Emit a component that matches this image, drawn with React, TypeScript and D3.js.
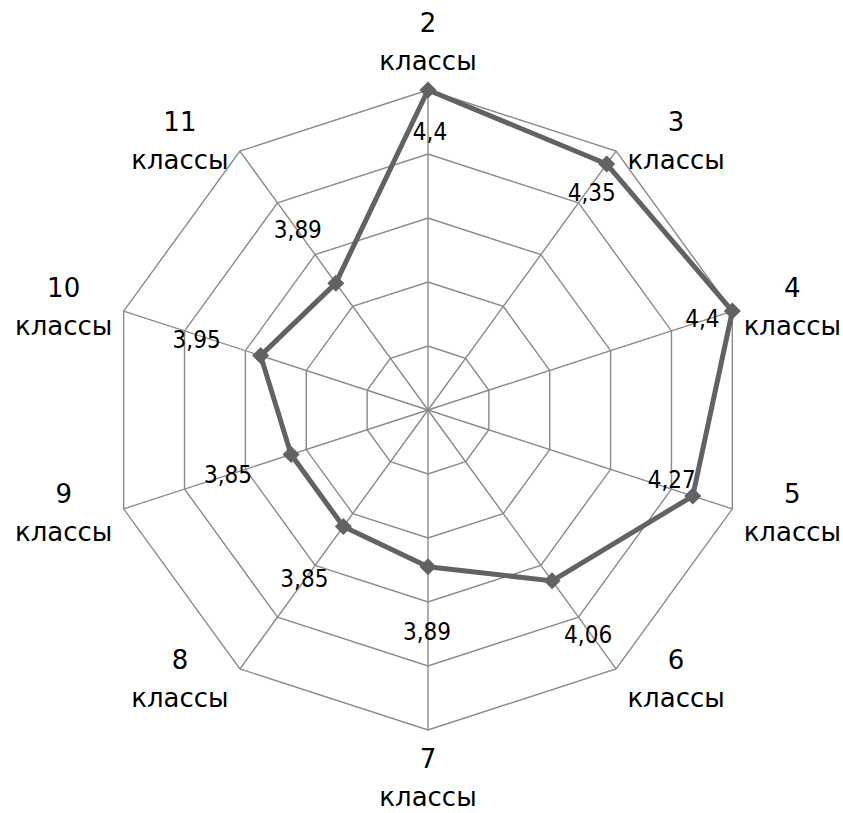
import React from "react";
import * as d3 from "d3";

// chart data
const categories = ["2", "3", "4", "5", "6", "7", "8", "9", "10", "11"];
const values = [4.4, 4.35, 4.4, 4.27, 4.06, 3.89, 3.85, 3.85, 3.95, 3.89];
const ringTicks = [3.6, 3.8, 4.0, 4.2, 4.4];
const unitLabel = "классы";

// data label nudges (px), as placed in the source chart
const labelNudge: [number, number][] = [
  [2, 42], [-15, 29], [-30, 8], [-21, -16], [36, 54],
  [-1, 65], [-39, 53], [-63, 21], [-64, -16], [-38, -53],
];

const W = 843;
const H = 813;
const cx = 428;
const cy = 410;
const R = 320;
const gridColor = "#8a8a8a";
const lineColor = "#626262";
const font = "'DejaVu Sans', sans-serif";

export default function App() {
  const r = d3.scaleLinear().domain([3.4, 4.4]).range([0, R]);
  const angle = d3
    .scaleLinear()
    .domain([0, categories.length])
    .range([0, 2 * Math.PI]);

  const pt = (i: number, v: number): [number, number] => {
    const a = angle(i);
    return [cx + r(v) * Math.sin(a), cy - r(v) * Math.cos(a)];
  };

  const ringPath = (v: number) =>
    d3.line()(categories.map((_, i) => pt(i, v))) + "Z";

  const seriesPath =
    d3.line()(values.map((v, i) => pt(i, v))) + "Z";

  return (
    <svg
      width={W}
      height={H}
      style={{ position: "absolute", left: 0, top: 0, background: "#fff" }}
    >
      {/* grid rings */}
      {ringTicks.map((t) => (
        <path key={t} d={ringPath(t)} fill="none" stroke={gridColor} strokeWidth={1.4} />
      ))}
      {/* spokes */}
      {categories.map((c, i) => {
        const [x, y] = pt(i, 4.4);
        return <line key={c} x1={cx} y1={cy} x2={x} y2={y} stroke={gridColor} strokeWidth={1.4} />;
      })}

      {/* series */}
      <path d={seriesPath} fill="none" stroke={lineColor} strokeWidth={5} strokeLinejoin="round" />
      {values.map((v, i) => {
        const [x, y] = pt(i, v);
        const s = 8.5;
        return (
          <path
            key={i}
            d={`M${x},${y - s}L${x + s},${y}L${x},${y + s}L${x - s},${y}Z`}
            fill={lineColor}
          />
        );
      })}

      {/* data labels */}
      {values.map((v, i) => {
        const [x, y] = pt(i, v);
        return (
          <text
            key={i}
            x={x + labelNudge[i][0]}
            y={y + labelNudge[i][1]}
            textAnchor="middle"
            dominantBaseline="central"
            fontFamily="'DejaVu Sans Condensed', 'DejaVu Sans', sans-serif"
            fontSize={24}
            fill="#000"
          >
            {d3.format(".2~f")(v).replace(".", ",")}
          </text>
        );
      })}

      {/* category labels */}
      {categories.map((c, i) => {
        const a = angle(i);
        const [vx, vy] = pt(i, 4.4);
        const s = Math.sin(a);
        const side = Math.abs(s) > 0.01;
        const lx = vx + (side ? Math.sign(s) * 60 : 0);
        const ly = vy + (side ? -Math.cos(a) * 12 : -Math.cos(a) * 48);
        return (
          <text
            key={c}
            x={lx}
            y={ly}
            textAnchor="middle"
            fontFamily={font}
            fontSize={26}
            fill="#000"
          >
            <tspan x={lx} dy={-19} dominantBaseline="central">{c}</tspan>
            <tspan x={lx} dy={38} dominantBaseline="central">{unitLabel}</tspan>
          </text>
        );
      })}
    </svg>
  );
}
